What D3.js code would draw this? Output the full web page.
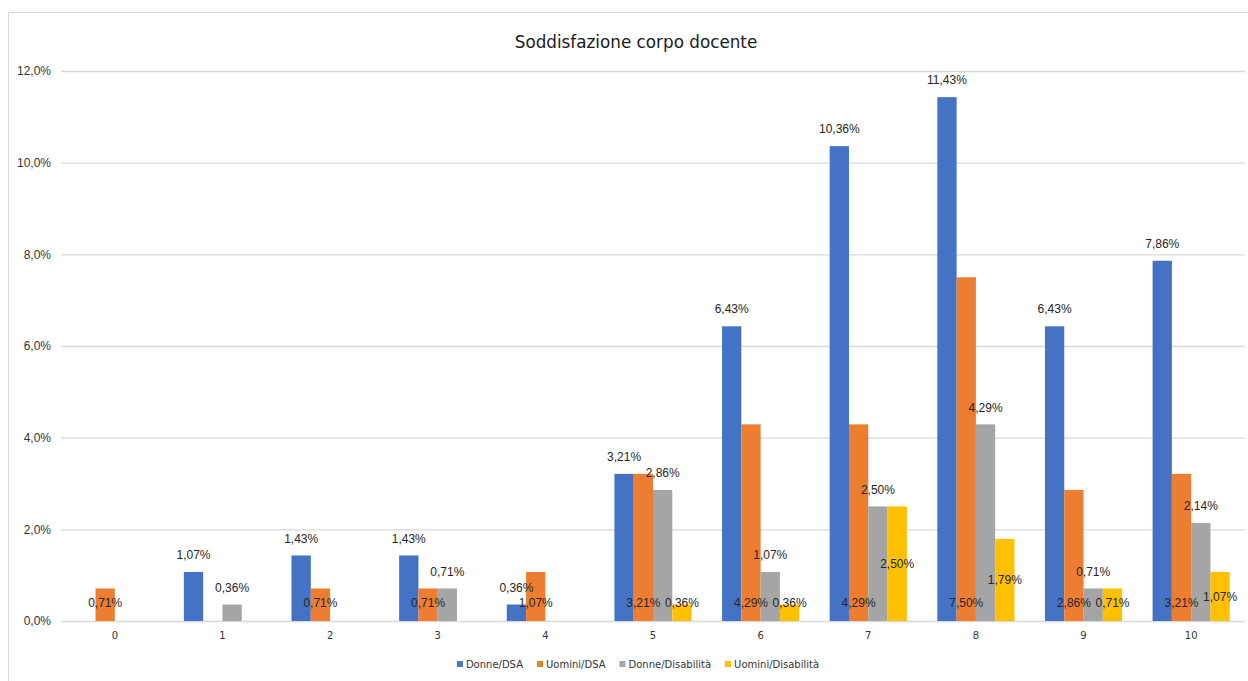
<!DOCTYPE html>
<html>
<head>
<meta charset="utf-8">
<script src="https://cdn.jsdelivr.net/npm/d3@7"></script>
<style>
  body { margin: 0; background: #fff; }
  svg { display: block; }
</style>
</head>
<body>
<div id="chart"></div>
<script>
const categories = ["0", "1", "2", "3", "4", "5", "6", "7", "8", "9", "10"];
const seriesNames = ["Donne/DSA", "Uomini/DSA", "Donne/Disabilità", "Uomini/Disabilità"];
const donneDSA = [0, 1.07, 1.43, 1.43, 0.36, 3.21, 6.43, 10.36, 11.43, 6.43, 7.86];
const uominiDSA = [0.71, 0, 0.71, 0.71, 1.07, 3.21, 4.29, 4.29, 7.50, 2.86, 3.21];
const donneDis = [0, 0.36, 0, 0.71, 0, 2.86, 1.07, 2.50, 4.29, 0.71, 2.14];
const uominiDis = [0, 0, 0, 0, 0, 0.36, 0.36, 2.50, 1.79, 0.71, 1.07];
const yTicks = [0, 2, 4, 6, 8, 10, 12];
const colors = ["#4472C4", "#ED7D31", "#A5A5A5", "#FFC000"];

const seriesValues = [donneDSA, uominiDSA, donneDis, uominiDis];

const width = 1248, height = 681;
const svg = d3.select("#chart").append("svg")
    .attr("width", width)
    .attr("height", height);

// cornice del grafico
svg.append("rect")
    .attr("x", 8.5).attr("y", 12.5)
    .attr("width", 1260).attr("height", 700)
    .attr("fill", "none")
    .attr("stroke", "#d9d9d9");

svg.append("text")
    .attr("x", 636).attr("y", 48)
    .attr("text-anchor", "middle")
    .style("font-family", "DejaVu Sans")
    .style("font-size", "16.8px")
    .attr("fill", "#1a1a1a")
    .text("Soddisfazione corpo docente");

const x0 = d3.scaleBand().domain(categories).range([61, 1245]);
const x1 = d3.scaleBand().domain(d3.range(seriesNames.length))
    .range([0, x0.bandwidth()]).paddingOuter(0.79);
const y = d3.scaleLinear().domain([0, 12]).range([621, 71]);

const fmt = v => v.toFixed(2).replace(".", ",") + "%";

// griglia + asse y
const yAxis = svg.append("g")
    .attr("transform", "translate(61,0)")
    .call(d3.axisLeft(y).tickValues(yTicks).tickSize(-(1245 - 61)).tickPadding(10)
        .tickFormat(d => d.toFixed(1).replace(".", ",") + "%"));
yAxis.select(".domain").remove();
yAxis.selectAll("line").attr("stroke", "#d9d9d9").attr("stroke-width", 1.3);
yAxis.selectAll("text")
    .style("font-family", "Liberation Sans")
    .style("font-size", "12px")
    .attr("fill", "#333");

const xAxis = svg.append("g")
    .attr("transform", "translate(0,621)")
    .call(d3.axisBottom(x0).tickSize(0).tickPadding(11));
xAxis.select(".domain").remove();
xAxis.selectAll("text")
    .style("font-family", "DejaVu Sans")
    .style("font-size", "10px")
    .attr("fill", "#333");

const bars = [];
seriesValues.forEach((vals, s) => {
    vals.forEach((v, i) => {
        if (v > 0) bars.push({ s, cat: categories[i], v });
    });
});

svg.append("g").selectAll("rect")
    .data(bars)
    .enter()
    .append("rect")
    .attr("x", d => x0(d.cat) + x1(d.s))
    .attr("y", d => y(d.v))
    .attr("width", x1.bandwidth())
    .attr("height", d => y(0) - y(d.v))
    .attr("fill", d => colors[d.s]);

// posizione etichette come in Excel: sopra, base interna, sopra, centro
function labelY(d) {
    if (d.s === 0) return y(d.v) - 17;
    if (d.s === 1) return y(0) - 18;
    if (d.s === 2) return y(d.v) - 17;
    return Math.min((y(d.v) + y(0)) / 2, y(0) - 18);
}

svg.append("g").selectAll("text")
    .data(bars)
    .enter()
    .append("text")
    .attr("x", d => x0(d.cat) + x1(d.s) + x1.bandwidth() / 2)
    .attr("y", d => labelY(d))
    .attr("dy", "0.35em")
    .attr("text-anchor", "middle")
    .style("font-family", "Liberation Sans")
    .style("font-size", "12px")
    .attr("fill", "#262626")
    .text(d => fmt(d.v));

// legenda
const legend = svg.append("g").attr("transform", "translate(0,665)");
let lx = 0;
const items = [];
seriesNames.forEach((name, i) => {
    const g = legend.append("g");
    g.append("rect")
        .attr("x", 0).attr("y", -4)
        .attr("width", 6).attr("height", 6)
        .attr("fill", colors[i]);
    const t = g.append("text")
        .attr("x", 9).attr("y", 0)
        .attr("dy", "0.3em")
        .style("font-family", "DejaVu Sans")
        .style("font-size", "10px")
        .attr("fill", "#333")
        .text(name);
    items.push({ g, w: 9 + t.node().getComputedTextLength() });
});
const gap = 14;
const total = d3.sum(items, d => d.w) + gap * (items.length - 1);
lx = 638 - total / 2;
items.forEach(it => {
    it.g.attr("transform", `translate(${lx},0)`);
    lx += it.w + gap;
});
</script>
</body>
</html>
